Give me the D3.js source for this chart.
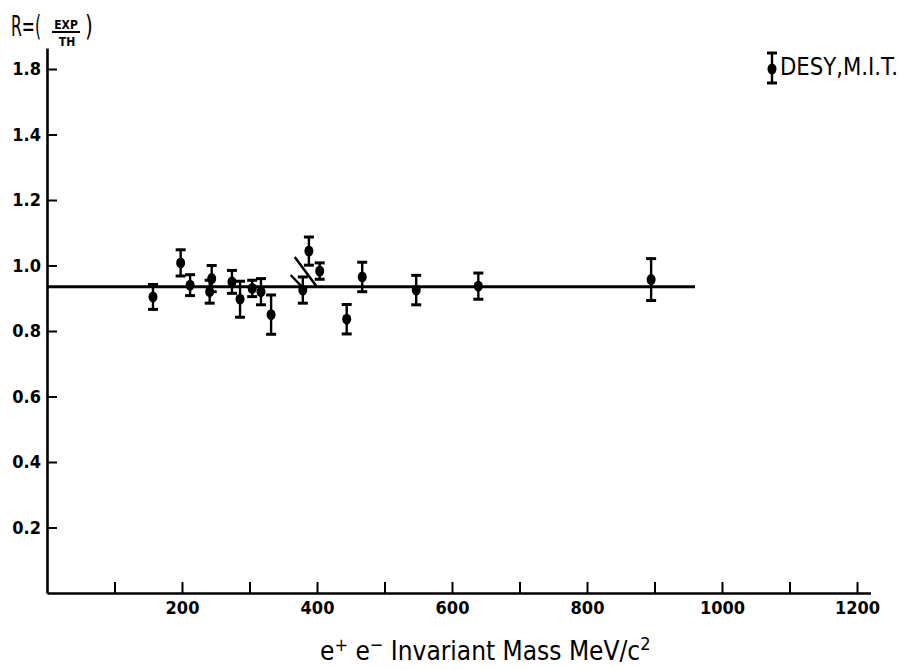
<!DOCTYPE html>
<html>
<head>
<meta charset="utf-8">
<script src="https://cdn.jsdelivr.net/npm/d3@7.9.0/dist/d3.min.js"></script>
<style>
  body { margin: 0; background: #fff; }
  svg { display: block; }
  text { font-family: "DejaVu Sans Condensed", "DejaVu Sans", sans-serif; font-stretch: condensed; fill: #000; }
</style>
</head>
<body>
<svg id="chart" width="904" height="670"></svg>
<script>
// e+e- invariant mass (MeV/c^2), ratio R = EXP/TH and its error
const mass = [157, 198, 212, 241, 244, 274, 286, 304, 317, 332, 379, 388, 404, 444, 467, 547, 639, 895];
const ratio = [0.904, 1.008, 0.94, 0.92, 0.96, 0.95, 0.897, 0.93, 0.92, 0.85, 0.925, 1.044, 0.983, 0.836, 0.965, 0.925, 0.937, 0.957];
const err = [0.038, 0.04, 0.032, 0.035, 0.04, 0.035, 0.055, 0.025, 0.04, 0.06, 0.04, 0.043, 0.025, 0.045, 0.045, 0.045, 0.04, 0.064];

// fitted constant
const fitValue = 0.935;
const fitRange = [0, 960];

// two short hand drawn strokes near 380-400 MeV
const strokeA = [[367, 1.026], [400, 0.934]];
const strokeB = [[361, 0.971], [381, 0.928]];

// axis ticks (label at top of y axis reads 1.8 in the original)
const xTicks = [100, 200, 300, 400, 500, 600, 700, 800, 900, 1000, 1100, 1200];
const yTicks = [0.2, 0.4, 0.6, 0.8, 1.0, 1.2, 1.4, 1.6];
const yTickLabels = ["0.2", "0.4", "0.6", "0.8", "1.0", "1.2", "1.4", "1.8"];

const legendLabel = "DESY,M.I.T.";

let svg = d3.select("#chart");
let x0 = 47, y0 = 593;

let xScale = d3.scaleLinear().domain([0, 1220]).range([x0, x0 + 1220 * 0.675]);
let yScale = d3.scaleLinear().domain([0, 1.664]).range([y0, y0 - 1.664 * 327.5]);

// y axis, ticks pointing inward
let yAxis = svg.append("g")
  .attr("transform", `translate(${x0},0)`)
  .call(d3.axisLeft(yScale)
    .tickValues(yTicks)
    .tickFormat(d => yTickLabels[yTicks.indexOf(d)])
    .tickSizeInner(-10)
    .tickSizeOuter(0)
    .tickPadding(6));

// x axis, ticks pointing up
let xAxis = svg.append("g")
  .attr("transform", `translate(0,${y0})`)
  .call(d3.axisBottom(xScale)
    .tickValues(xTicks)
    .tickFormat(d => d % 200 === 0 ? d : "")
    .tickSizeInner(-11)
    .tickSizeOuter(0)
    .tickPadding(8));

[xAxis, yAxis].forEach(a => {
  a.select(".domain").attr("stroke", "#000").attr("stroke-width", 2.6);
  a.selectAll(".tick line").attr("stroke", "#000").attr("stroke-width", 2);
  a.selectAll(".tick text")
    .attr("font-size", 18)
    .attr("font-weight", "bold");
});

// fit line
svg.append("line")
  .attr("x1", xScale(fitRange[0]))
  .attr("x2", xScale(fitRange[1]))
  .attr("y1", yScale(fitValue))
  .attr("y2", yScale(fitValue))
  .attr("stroke", "#000")
  .attr("stroke-width", 3);

// strokes
let strokeLine = d3.line().x(d => xScale(d[0])).y(d => yScale(d[1]));
[strokeA, strokeB].forEach(s => {
  svg.append("path")
    .datum(s)
    .attr("d", strokeLine)
    .attr("fill", "none")
    .attr("stroke", "#000")
    .attr("stroke-width", 2.5);
});

// error bars and points
let pts = mass.map((m, i) => ({ m: m, r: ratio[i], e: err[i] }));
let capW = 5;

let g = svg.append("g").attr("stroke", "#000").attr("stroke-width", 2.4);
g.selectAll(".bar").data(pts).enter().append("line")
  .attr("x1", d => xScale(d.m)).attr("x2", d => xScale(d.m))
  .attr("y1", d => yScale(d.r + d.e)).attr("y2", d => yScale(d.r - d.e));
g.selectAll(".capTop").data(pts).enter().append("line")
  .attr("x1", d => xScale(d.m) - capW).attr("x2", d => xScale(d.m) + capW)
  .attr("y1", d => yScale(d.r + d.e)).attr("y2", d => yScale(d.r + d.e))
  .attr("stroke-width", 3);
g.selectAll(".capBot").data(pts).enter().append("line")
  .attr("x1", d => xScale(d.m) - capW).attr("x2", d => xScale(d.m) + capW)
  .attr("y1", d => yScale(d.r - d.e)).attr("y2", d => yScale(d.r - d.e))
  .attr("stroke-width", 3);
svg.selectAll(".dot").data(pts).enter().append("ellipse")
  .attr("cx", d => xScale(d.m))
  .attr("cy", d => yScale(d.r))
  .attr("rx", 4.5)
  .attr("ry", 5.5)
  .attr("fill", "#000");

// legend
let leg = svg.append("g").attr("transform", "translate(772,0)");
leg.append("line").attr("x1", 0).attr("x2", 0).attr("y1", 53).attr("y2", 83)
  .attr("stroke", "#000").attr("stroke-width", 2.4);
leg.append("line").attr("x1", -5).attr("x2", 5).attr("y1", 53).attr("y2", 53)
  .attr("stroke", "#000").attr("stroke-width", 3);
leg.append("line").attr("x1", -5).attr("x2", 5).attr("y1", 83).attr("y2", 83)
  .attr("stroke", "#000").attr("stroke-width", 3);
leg.append("ellipse").attr("cx", 0).attr("cy", 69).attr("rx", 4.5).attr("ry", 5.5).attr("fill", "#000");
leg.append("text")
  .attr("x", 8)
  .attr("y", 75)
  .attr("font-size", 24)
  .attr("textLength", 118)
  .attr("lengthAdjust", "spacingAndGlyphs")
  .text(legendLabel);

// y axis title R=(EXP/TH), squeezed horizontally like the original lettering
let yt = svg.append("g");
yt.append("text").attr("transform", "translate(11,36) scale(0.62,1)").attr("font-size", 28).text("R=(");
yt.append("text").attr("x", 66).attr("y", 29).attr("font-size", 12).attr("font-weight", "bold")
  .attr("text-anchor", "middle").text("EXP");
yt.append("line").attr("x1", 52).attr("x2", 80).attr("y1", 32).attr("y2", 32)
  .attr("stroke", "#000").attr("stroke-width", 2);
yt.append("text").attr("x", 67).attr("y", 46).attr("font-size", 12).attr("font-weight", "bold")
  .attr("text-anchor", "middle").text("TH");
yt.append("text").attr("transform", "translate(85,36) scale(0.8,1)").attr("font-size", 28).text(")");

// x axis title
let xt = svg.append("text")
  .attr("x", 320)
  .attr("y", 660)
  .attr("font-size", 26);
xt.append("tspan").text("e");
xt.append("tspan").attr("dy", -9).attr("font-size", 18).text("+");
xt.append("tspan").attr("dy", 9).text(" e");
xt.append("tspan").attr("dy", -9).attr("font-size", 18).text("\u2212");
xt.append("tspan").attr("dy", 9).text(" Invariant Mass  MeV/c");
xt.append("tspan").attr("dy", -10).attr("font-size", 18).text("2");
</script>
</body>
</html>
